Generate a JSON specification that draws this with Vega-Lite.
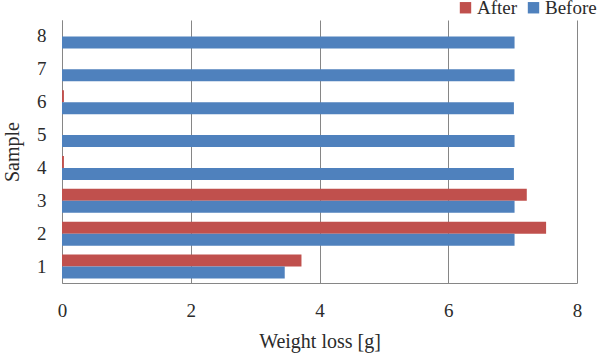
{
  "$schema": "https://vega.github.io/schema/vega-lite/v6.json",
  "width": 515,
  "height": 263,
  "autosize": {"type": "none"},
  "padding": {"left": 62, "top": 20, "right": 20, "bottom": 71},
  "background": "white",
  "config": {
    "view": {"stroke": null},
    "font": "Liberation Serif",
    "axis": {"labelFont": "Liberation Serif", "titleFont": "Liberation Serif", "labelColor": "#2b2b2b", "titleColor": "#2b2b2b", "titleFontWeight": "normal"},
    "legend": {"labelFont": "Liberation Serif"}
  },
  "data": {
    "values": [
      {"sample": "1", "series": "After", "loss": 3.72},
      {"sample": "1", "series": "Before", "loss": 3.46},
      {"sample": "2", "series": "After", "loss": 7.52},
      {"sample": "2", "series": "Before", "loss": 7.03},
      {"sample": "3", "series": "After", "loss": 7.22},
      {"sample": "3", "series": "Before", "loss": 7.03},
      {"sample": "4", "series": "After", "loss": 0.03},
      {"sample": "4", "series": "Before", "loss": 7.02},
      {"sample": "5", "series": "After", "loss": 0},
      {"sample": "5", "series": "Before", "loss": 7.03},
      {"sample": "6", "series": "After", "loss": 0.03},
      {"sample": "6", "series": "Before", "loss": 7.02},
      {"sample": "7", "series": "After", "loss": 0},
      {"sample": "7", "series": "Before", "loss": 7.03},
      {"sample": "8", "series": "After", "loss": 0},
      {"sample": "8", "series": "Before", "loss": 7.03}
    ]
  },
  "mark": {"type": "bar", "stroke": null},
  "encoding": {
    "y": {
      "field": "sample", "type": "nominal",
      "sort": ["8", "7", "6", "5", "4", "3", "2", "1"],
      "scale": {"paddingInner": 0.27, "paddingOuter": 0.135},
      "axis": {
        "title": "Sample", "titleFontSize": 20, "titlePadding": 14,
        "labelFontSize": 19, "labelAngle": 0, "labelPadding": 16,
        "ticks": false, "domainColor": "#868686", "domainWidth": 1
      }
    },
    "x": {
      "field": "loss", "type": "quantitative",
      "scale": {"domain": [0, 8], "nice": false},
      "axis": {
        "title": "Weight loss [g]", "titleFontSize": 20, "titlePadding": 11,
        "labelFontSize": 19, "labelPadding": 18, "values": [0, 2, 4, 6, 8],
        "ticks": false, "domainColor": "#868686", "gridColor": "#868686", "gridWidth": 1,
        "labelFlush": false
      }
    },
    "yOffset": {"field": "series", "type": "nominal", "scale": {"domain": ["After", "Before"]}},
    "color": {
      "field": "series", "type": "nominal",
      "scale": {"domain": ["After", "Before"], "range": ["#C0504D", "#4F81BD"]},
      "legend": {
        "title": null, "orient": "none", "direction": "horizontal",
        "legendX": 394, "legendY": -22, "padding": 0,
        "symbolType": "square", "symbolSize": 130, "symbolStrokeWidth": 0,
        "labelFontSize": 19, "labelColor": "#2b2b2b", "columnPadding": 6, "labelOffset": 2
      }
    }
  }
}
